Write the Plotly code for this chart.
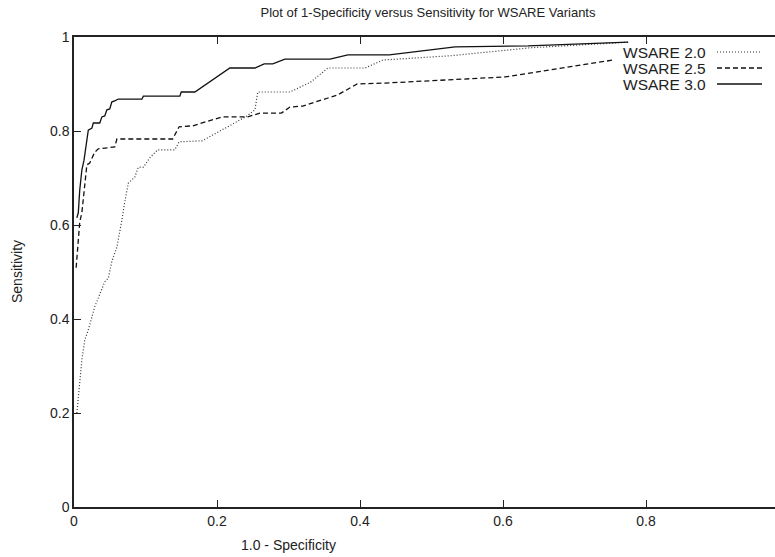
import plotly.graph_objects as go

# WSARE 2.0 (dotted)
x_20 = [0.004, 0.006, 0.008, 0.011, 0.015, 0.020, 0.025, 0.029, 0.034, 0.039, 0.043, 0.048,
        0.053, 0.060, 0.064, 0.067, 0.071, 0.076, 0.085, 0.090, 0.097, 0.106, 0.117, 0.141,
        0.147, 0.179, 0.215, 0.242, 0.253, 0.257, 0.302, 0.331, 0.355, 0.407, 0.432, 0.526,
        0.638, 0.775]
y_20 = [0.200, 0.228, 0.264, 0.313, 0.355, 0.377, 0.402, 0.426, 0.445, 0.464, 0.479, 0.487,
        0.523, 0.553, 0.583, 0.611, 0.649, 0.689, 0.702, 0.723, 0.723, 0.743, 0.760, 0.760,
        0.777, 0.779, 0.809, 0.832, 0.845, 0.883, 0.883, 0.904, 0.934, 0.934, 0.951, 0.960,
        0.977, 0.989]

# WSARE 2.5 (dashed)
x_25 = [0.003, 0.008, 0.011, 0.015, 0.018, 0.022, 0.027, 0.029, 0.034, 0.046, 0.057, 0.060,
        0.138, 0.147, 0.166, 0.207, 0.243, 0.260, 0.290, 0.302, 0.320, 0.369, 0.396, 0.435,
        0.526, 0.603, 0.666, 0.754]
y_25 = [0.509, 0.606, 0.626, 0.681, 0.728, 0.732, 0.749, 0.755, 0.762, 0.764, 0.766, 0.783,
        0.783, 0.809, 0.811, 0.830, 0.830, 0.838, 0.838, 0.851, 0.853, 0.877, 0.900, 0.902,
        0.909, 0.915, 0.930, 0.951]

# WSARE 3.0 (solid)
x_30 = [0.004, 0.006, 0.008, 0.011, 0.014, 0.020, 0.025, 0.027, 0.036, 0.039, 0.043, 0.046,
        0.050, 0.053, 0.057, 0.062, 0.095, 0.097, 0.148, 0.150, 0.169, 0.218, 0.253, 0.266,
        0.278, 0.295, 0.358, 0.383, 0.441, 0.533, 0.635, 0.775]
y_30 = [0.615, 0.626, 0.674, 0.717, 0.738, 0.802, 0.806, 0.817, 0.817, 0.830, 0.832, 0.845,
        0.847, 0.862, 0.864, 0.868, 0.868, 0.874, 0.874, 0.883, 0.883, 0.934, 0.934, 0.943,
        0.943, 0.953, 0.953, 0.962, 0.962, 0.979, 0.981, 0.989]

series_names = ["WSARE 2.0", "WSARE 2.5", "WSARE 3.0"]
x_ticks = [0, 0.2, 0.4, 0.6, 0.8]
y_ticks = [0, 0.2, 0.4, 0.6, 0.8, 1]

NARROW = "Liberation Sans Narrow, Liberation Sans, Arial, sans-serif"
REG = "Liberation Sans, Arial, sans-serif"

W, H = 775, 557
L, T, B = 74, 37, 50
plot_w = W - L
plot_h = H - T - B
x_max = plot_w / 715.0

styles = [dict(color="#333333", width=1.2, dash="1px,2px"),
          dict(color="#111111", width=1.3, dash="5px,3px"),
          dict(color="#111111", width=1.3, dash="solid")]

fig = go.Figure()
for xs, ys, name, st in zip([x_20, x_25, x_30], [y_20, y_25, y_30], series_names, styles):
    fig.add_trace(go.Scatter(x=xs, y=ys, mode="lines", name=name, line=st, showlegend=False))

# legend (gnuplot style: text then sample)
leg_y = [52, 68, 84]
for name, st, py in zip(series_names, styles, leg_y):
    fig.add_annotation(xref="paper", yref="paper", x=(708 - L) / plot_w, y=1 - (py - T) / plot_h,
                       text=name, showarrow=False, xanchor="right", yanchor="middle",
                       font=dict(family=REG, size=15.5, color="#222222"))
    fig.add_shape(type="line", xref="paper", yref="paper",
                  x0=(717 - L) / plot_w, x1=(762 - L) / plot_w,
                  y0=1 - (py - T) / plot_h, y1=1 - (py - T) / plot_h, line=st)

fig.add_annotation(xref="paper", yref="paper", x=(288 - L) / plot_w, y=-(545 - 507) / plot_h,
                   text="1.0 - Specificity", showarrow=False, xanchor="center", yanchor="middle",
                   font=dict(family=NARROW, size=14, color="#222222"))
fig.add_annotation(xref="paper", yref="paper", x=(17 - L) / plot_w, y=0.5,
                   text="Sensitivity", showarrow=False, textangle=-90, xanchor="center", yanchor="middle",
                   font=dict(family=NARROW, size=14, color="#222222"))

fig.update_layout(
    width=W, height=H,
    margin=dict(l=L, r=0, t=T, b=B),
    paper_bgcolor="white", plot_bgcolor="white",
    title=dict(text="Plot of 1-Specificity versus Sensitivity for WSARE Variants",
               x=(428) / W, xanchor="center", y=1 - 12 / H, yanchor="middle",
               font=dict(family=REG, size=13, color="#222222")),
    xaxis=dict(range=[0, x_max], tickvals=x_ticks, ticktext=[str(v) for v in x_ticks],
               showgrid=False, zeroline=False, showline=True, linecolor="#222222", linewidth=1.5,
               mirror="ticks", ticks="inside", ticklen=7, tickcolor="#222222", tickwidth=1,
               tickfont=dict(family=NARROW, size=14, color="#222222")),
    yaxis=dict(range=[0, 1], tickvals=y_ticks, ticktext=[str(v) for v in y_ticks],
               showgrid=False, zeroline=False, showline=True, linecolor="#222222", linewidth=1.5,
               ticks="inside", ticklen=7, tickcolor="#222222", tickwidth=1,
               tickfont=dict(family=NARROW, size=14, color="#222222")),
)

fig.write_html("out.html")
